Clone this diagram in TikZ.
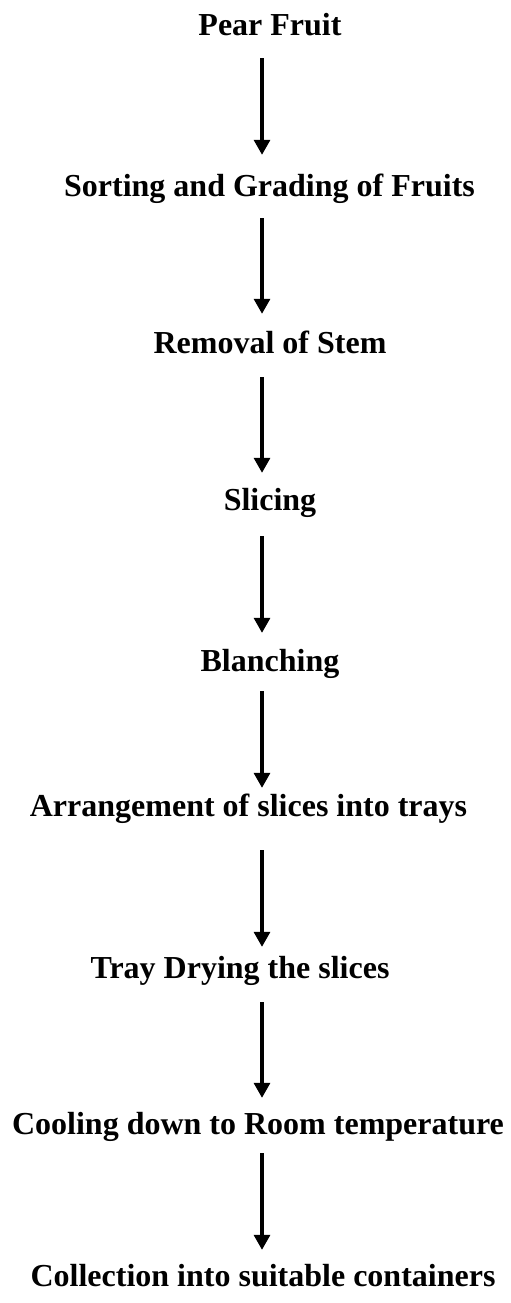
\documentclass[tikz,border=0pt]{standalone}
\usepackage{fontspec}
\setmainfont{Liberation Serif}
\usetikzlibrary{arrows.meta}
\tikzset{
  stage/.style={inner sep=0pt, anchor=base, text height=22pt, text depth=7pt,
    font=\fontsize{32}{38}\selectfont\bfseries},
  flow/.style={line width=3.2pt, -{Triangle[width=16pt,length=15pt]}}
}
\begin{document}
\begin{tikzpicture}[x=1pt,y=-1pt]
\useasboundingbox (0,0) rectangle (511,1303);
\coordinate (ax) at (262,0);
% process stages
\node[stage] (pear)  at (270,35.5) {Pear Fruit};
\node[stage] (sort)  at (269.5,196) {Sorting and Grading of Fruits};
\node[stage] (stem)  at (270,353) {Removal of Stem};
\node[stage] (slice) at (270,510) {Slicing};
\node[stage] (blanch) at (270,671) {Blanching};
\node[stage] (tray)  at (248.5,816) {Arrangement of slices into trays};
\node[stage] (dry)   at (240,978) {Tray Drying the slices};
\node[stage] (cool)  at (258,1134) {Cooling down to Room temperature};
\node[stage] (store) at (263,1286) {Collection into suitable containers};
% arrows between stages
\draw[flow] ([yshift=-15.5pt]pear.south -| ax) -- ([yshift=19pt]sort.north -| ax);
\draw[flow] ([yshift=-15pt]sort.south -| ax) -- ([yshift=17pt]stem.north -| ax);
\draw[flow] ([yshift=-17pt]stem.south -| ax) -- ([yshift=15pt]slice.north -| ax);
\draw[flow] ([yshift=-19pt]slice.south -| ax) -- ([yshift=16pt]blanch.north -| ax);
\draw[flow] ([yshift=-13pt]blanch.south -| ax) -- ([yshift=6pt]tray.north -| ax);
\draw[flow] ([yshift=-27pt]tray.south -| ax) -- ([yshift=9pt]dry.north -| ax);
\draw[flow] ([yshift=-17pt]dry.south -| ax) -- ([yshift=14pt]cool.north -| ax);
\draw[flow] ([yshift=-12pt]cool.south -| ax) -- ([yshift=14pt]store.north -| ax);
\end{tikzpicture}
\end{document}
